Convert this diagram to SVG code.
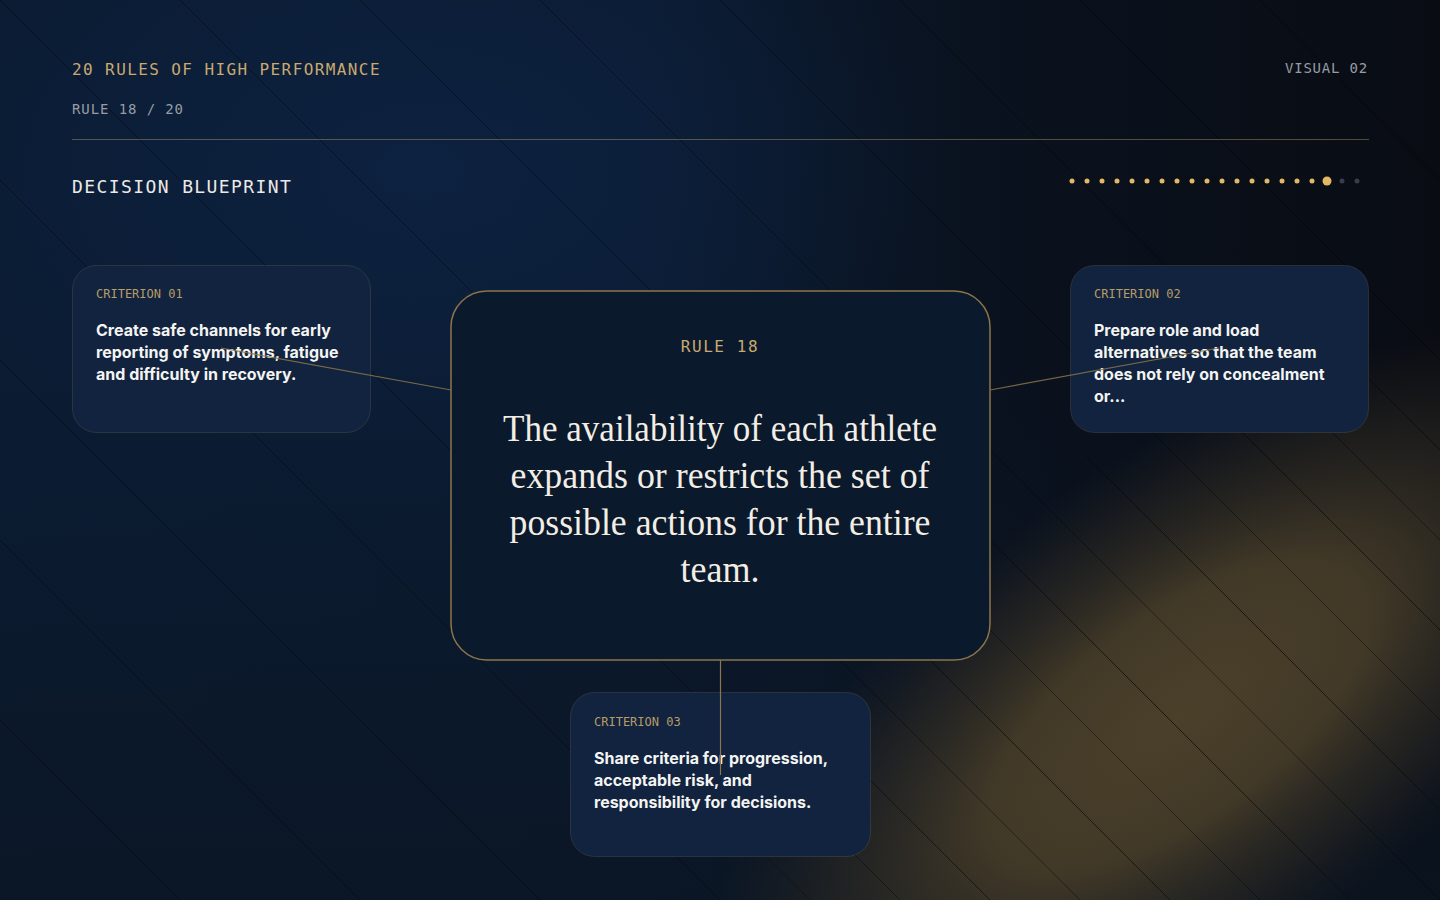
<svg xmlns="http://www.w3.org/2000/svg" width="1440" height="900" viewBox="0 0 1440 900">
  <defs>
    <linearGradient id="bgBase" gradientUnits="userSpaceOnUse" x1="0" y1="0" x2="1440" y2="0">
      <stop offset="0" stop-color="#0b1c33"/>
      <stop offset="0.45" stop-color="#0b1b31"/>
      <stop offset="0.68" stop-color="#0a121f"/>
      <stop offset="1" stop-color="#090c13"/>
    </linearGradient>
    <radialGradient id="blueGlow" gradientUnits="userSpaceOnUse" cx="0" cy="0" r="1" gradientTransform="translate(420 170) scale(520 330)">
      <stop offset="0" stop-color="#0d2242" stop-opacity="0.9"/>
      <stop offset="1" stop-color="#0d2242" stop-opacity="0"/>
    </radialGradient>
    <linearGradient id="bottomShade" gradientUnits="userSpaceOnUse" x1="0" y1="380" x2="0" y2="900">
      <stop offset="0" stop-color="#0a1523" stop-opacity="0"/>
      <stop offset="1" stop-color="#0b1522" stop-opacity="0.75"/>
    </linearGradient>
    <radialGradient id="goldGlow" gradientUnits="userSpaceOnUse" cx="0" cy="0" r="1" gradientTransform="translate(1180 715) rotate(-36) scale(560 250)">
      <stop offset="0" stop-color="#4b402a" stop-opacity="1"/>
      <stop offset="0.4" stop-color="#463c28" stop-opacity="0.92"/>
      <stop offset="0.75" stop-color="#332d23" stop-opacity="0.45"/>
      <stop offset="1" stop-color="#2a2620" stop-opacity="0"/>
    </radialGradient>
    <radialGradient id="oddLines" gradientUnits="userSpaceOnUse" cx="0" cy="0" r="1" gradientTransform="translate(1200 680) rotate(-36) scale(560 300)">
      <stop offset="0" stop-color="#000" stop-opacity="0.7"/>
      <stop offset="0.7" stop-color="#000" stop-opacity="0.5"/>
      <stop offset="1" stop-color="#000" stop-opacity="0"/>
    </radialGradient>
    <style>
      .mono { font-family: "DejaVu Sans Mono", "Liberation Mono", monospace; }
      .sans { font-family: Inter, "Noto Sans", "Liberation Sans", sans-serif; }
      .serif { font-family: "Liberation Serif", "DejaVu Serif", serif; }
      .card { fill: #11233e; stroke: #c9a96e; stroke-opacity: 0.16; stroke-width: 1; }
      .label { font-size: 12px; fill: #b89c68; }
      .body { font-size: 16px; font-weight: 700; fill: #f4f4f2; }
      .dot { fill: #e2b865; }
      .dot-off { fill: #363d4b; }
      .conn { stroke: #8c7549; stroke-width: 1.2; fill: none; }
    </style>
  </defs>

  <g id="background">
    <rect x="0" y="0" width="1440" height="900" fill="url(#bgBase)"/>
    <rect x="0" y="0" width="1440" height="900" fill="url(#blueGlow)"/>
    <rect x="0" y="0" width="1440" height="900" fill="url(#bottomShade)"/>
    <rect x="0" y="0" width="1440" height="900" fill="url(#goldGlow)"/>
    <path stroke="#000" stroke-opacity="0.4" stroke-width="1" fill="none"
      d="M-900 0L0 900M-720 0L180 900M-540 0L360 900M-360 0L540 900M-180 0L720 900M0 0L900 900M180 0L1080 900M360 0L1260 900M540 0L1440 900M720 0L1620 900M900 0L1800 900M1080 0L1980 900M1260 0L2160 900"/>
    <path stroke="url(#oddLines)" stroke-width="1" fill="none"
      d="M-810 0L90 900M-630 0L270 900M-450 0L450 900M-270 0L630 900M-90 0L810 900M90 0L990 900M270 0L1170 900M450 0L1350 900M630 0L1530 900M810 0L1710 900M990 0L1890 900M1170 0L2070 900M1350 0L2250 900"/>
  </g>

  <g id="header">
    <text class="mono" x="72" y="75" font-size="16" letter-spacing="1.4" fill="#c9a970">20 RULES OF HIGH PERFORMANCE</text>
    <text class="mono" x="72" y="114" font-size="14" letter-spacing="0.9" fill="#979ca4">RULE 18 / 20</text>
    <text class="mono" x="1368" y="73" font-size="14" letter-spacing="0.8" fill="#979ca4" text-anchor="end">VISUAL 02</text>
    <line x1="72" y1="139.5" x2="1369" y2="139.5" stroke="#c9a96e" stroke-opacity="0.4" stroke-width="1"/>
    <text class="mono" x="72" y="193" font-size="18" letter-spacing="1.4" fill="#eceae6">DECISION BLUEPRINT</text>
  </g>

  <g id="progress">
    <circle class="dot" cx="1072" cy="181" r="2.5"/>
    <circle class="dot" cx="1087" cy="181" r="2.5"/>
    <circle class="dot" cx="1102" cy="181" r="2.5"/>
    <circle class="dot" cx="1117" cy="181" r="2.5"/>
    <circle class="dot" cx="1132" cy="181" r="2.5"/>
    <circle class="dot" cx="1147" cy="181" r="2.5"/>
    <circle class="dot" cx="1162" cy="181" r="2.5"/>
    <circle class="dot" cx="1177" cy="181" r="2.5"/>
    <circle class="dot" cx="1192" cy="181" r="2.5"/>
    <circle class="dot" cx="1207" cy="181" r="2.5"/>
    <circle class="dot" cx="1222" cy="181" r="2.5"/>
    <circle class="dot" cx="1237" cy="181" r="2.5"/>
    <circle class="dot" cx="1252" cy="181" r="2.5"/>
    <circle class="dot" cx="1267" cy="181" r="2.5"/>
    <circle class="dot" cx="1282" cy="181" r="2.5"/>
    <circle class="dot" cx="1297" cy="181" r="2.5"/>
    <circle class="dot" cx="1312" cy="181" r="2.5"/>
    <circle class="dot" cx="1327" cy="181" r="4.5"/>
    <circle class="dot-off" cx="1342" cy="181" r="2.5"/>
    <circle class="dot-off" cx="1357" cy="181" r="2.5"/>
  </g>

  <g id="node-rule">
    <rect x="451" y="291" width="539" height="369" rx="36" fill="#0b192d" stroke="#8c7549" stroke-width="1.5"/>
    <text class="mono" x="720" y="352" font-size="16" letter-spacing="1.6" fill="#c9a970" text-anchor="middle">RULE 18</text>
    <g class="serif" font-size="38" fill="#f3eee4" text-anchor="middle">
      <text x="720" y="441" textLength="434" lengthAdjust="spacingAndGlyphs">The availability of each athlete</text>
      <text x="720" y="488" textLength="419" lengthAdjust="spacingAndGlyphs">expands or restricts the set of</text>
      <text x="720" y="535" textLength="421" lengthAdjust="spacingAndGlyphs">possible actions for the entire</text>
      <text x="720" y="582" textLength="79" lengthAdjust="spacingAndGlyphs">team.</text>
    </g>
  </g>

  <g id="node-criterion-01">
    <rect class="card" x="72.5" y="265.5" width="298" height="167" rx="24"/>
    <text class="mono label" x="96" y="298">CRITERION 01</text>
    <text class="sans body" x="96" y="336">Create safe channels for early</text>
    <text class="sans body" x="96" y="358">reporting of symptoms, fatigue</text>
    <text class="sans body" x="96" y="380">and difficulty in recovery.</text>
  </g>

  <g id="node-criterion-02">
    <rect class="card" x="1070.5" y="265.5" width="298" height="167" rx="24"/>
    <text class="mono label" x="1094" y="298">CRITERION 02</text>
    <text class="sans body" x="1094" y="336">Prepare role and load</text>
    <text class="sans body" x="1094" y="358">alternatives so that the team</text>
    <text class="sans body" x="1094" y="380">does not rely on concealment</text>
    <text class="sans body" x="1094" y="402">or...</text>
  </g>

  <g id="node-criterion-03">
    <rect class="card" x="570.5" y="692.5" width="300" height="164" rx="24"/>
    <text class="mono label" x="594" y="726">CRITERION 03</text>
    <text class="sans body" x="594" y="764">Share criteria for progression,</text>
    <text class="sans body" x="594" y="786">acceptable risk, and</text>
    <text class="sans body" x="594" y="808">responsibility for decisions.</text>
  </g>

  <g id="connectors">
    <line class="conn" x1="221" y1="348" x2="451" y2="390" stroke-opacity="0.85"/>
    <line class="conn" x1="990" y1="390" x2="1219" y2="348" stroke-opacity="0.85"/>
    <line class="conn" x1="720.5" y1="660" x2="720.5" y2="775"/>
  </g>
</svg>
